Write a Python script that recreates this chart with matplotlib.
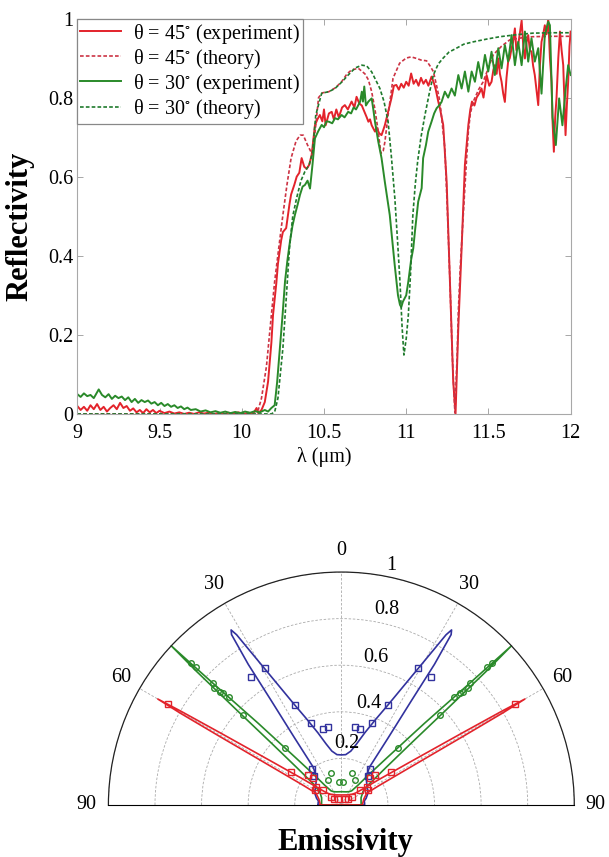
import numpy as np
import matplotlib
matplotlib.use('Agg')
import matplotlib.pyplot as plt

plt.rcParams['font.family'] = ['Liberation Serif', 'DejaVu Serif']
plt.rcParams['mathtext.fontset'] = 'stix'

# ---------------- reflectivity data ----------------
# theta = 45 deg, experiment
exp45 = [
    (9.00, .020), (9.02, .010), (9.04, .018), (9.06, .008), (9.08, .022), (9.10, .012),
    (9.12, .025), (9.14, .010), (9.16, .018), (9.18, .006), (9.20, .015), (9.22, .022),
    (9.24, .012), (9.26, .028), (9.28, .015), (9.30, .020), (9.32, .008), (9.34, .014),
    (9.36, .004), (9.38, .010), (9.40, .002), (9.42, .012), (9.44, .004), (9.46, .010),
    (9.48, .002), (9.50, .008), (9.53, .002), (9.56, .006), (9.59, .001), (9.62, .004),
    (9.65, .000), (9.68, .003), (9.71, .000), (9.74, .004), (9.77, .001), (9.80, .003),
    (9.83, .000), (9.86, .002), (9.89, .000), (9.92, .003), (9.95, .001), (9.98, .004),
    (10.01, .000), (10.04, .003), (10.07, .001), (10.09, .015), (10.10, .002), (10.12, .010),
    (10.14, .030), (10.16, .082), (10.18, .18), (10.19, .25), (10.21, .33), (10.22, .38),
    (10.24, .44), (10.25, .46), (10.27, .47), (10.29, .53), (10.30, .555), (10.32, .58),
    (10.334, .60), (10.35, .61), (10.364, .647), (10.38, .625), (10.395, .62), (10.41, .63),
    (10.425, .655), (10.445, .73), (10.46, .745), (10.475, .756), (10.49, .74), (10.50, .77),
    (10.51, .73), (10.53, .76), (10.547, .764), (10.56, .745), (10.575, .77), (10.59, .75),
    (10.61, .775), (10.627, .781), (10.645, .77), (10.668, .79), (10.685, .775), (10.698, .802),
    (10.715, .785), (10.73, .78), (10.75, .76), (10.76, .75), (10.77, .739), (10.78, .745),
    (10.79, .73), (10.81, .714), (10.82, .725), (10.835, .71), (10.85, .705), (10.87, .73),
    (10.89, .764), (10.91, .798), (10.925, .83), (10.94, .832), (10.955, .82), (10.97, .835),
    (10.985, .825), (11.0, .84), (11.015, .83), (11.03, .861), (11.045, .835), (11.06, .845),
    (11.075, .83), (11.09, .85), (11.105, .835), (11.12, .845), (11.135, .83), (11.154, .853),
    (11.17, .835), (11.18, .82), (11.195, .79), (11.205, .773), (11.225, .731), (11.246, .587),
    (11.266, .335), (11.286, .082), (11.30, .0), (11.317, .22), (11.337, .419), (11.357, .63),
    (11.378, .731), (11.39, .77), (11.40, .79), (11.415, .78), (11.428, .80), (11.443, .81),
    (11.458, .823), (11.47, .80), (11.489, .857), (11.505, .83), (11.519, .84), (11.53, .87),
    (11.539, .882), (11.55, .86), (11.56, .899), (11.57, .86), (11.58, .84), (11.59, .81),
    (11.60, .789), (11.61, .85), (11.62, .891), (11.63, .90), (11.641, .925), (11.65, .94),
    (11.661, .975), (11.67, .92), (11.681, .933), (11.69, .96), (11.702, .995), (11.712, .93),
    (11.722, .899), (11.732, .94), (11.742, .958), (11.752, .92), (11.762, .916), (11.772, .88),
    (11.782, .857), (11.792, .82), (11.803, .781), (11.813, .88), (11.823, .941), (11.833, .96),
    (11.843, .983), (11.853, .96), (11.864, 1.0), (11.874, .9), (11.884, .84), (11.89, .74),
    (11.898, .663), (11.906, .75), (11.914, .798), (11.925, .9), (11.935, .967), (11.945, .92),
    (11.955, .882), (11.962, .79), (11.969, .705), (11.977, .78), (11.985, .84), (11.993, .93),
    (12.0, .967),
]

# theta = 45 deg, theory
th45 = [
    (9.0, 0), (10.05, 0), (10.1, .01), (10.12, .04), (10.15, .12), (10.18, .25), (10.20, .335),
    (10.225, .42), (10.25, .503), (10.275, .58), (10.30, .647), (10.33, .69), (10.355, .705),
    (10.374, .705), (10.40, .68), (10.43, .655), (10.45, .73), (10.467, .80), (10.49, .812),
    (10.53, .815), (10.57, .825), (10.607, .84), (10.64, .86), (10.668, .87), (10.709, .874),
    (10.749, .86), (10.77, .845), (10.79, .815), (10.81, .77), (10.83, .714), (10.846, .659),
    (10.86, .665), (10.87, .687), (10.89, .756), (10.92, .849), (10.96, .887), (11.0, .9),
    (11.03, .903), (11.063, .899), (11.09, .895), (11.124, .893), (11.145, .88), (11.165, .866),
    (11.185, .83), (11.205, .79), (11.235, .672), (11.25, .52), (11.266, .335), (11.28, .15),
    (11.296, .003), (11.31, .15), (11.317, .26), (11.33, .38), (11.347, .503), (11.365, .63),
    (11.378, .714), (11.39, .76), (11.408, .79), (11.44, .82), (11.468, .84), (11.50, .875),
    (11.529, .908), (11.58, .93), (11.63, .946), (11.70, .951), (11.77, .954), (11.88, .955),
    (12.0, .955),
]

# theta = 30 deg, experiment
exp30 = [
    (9.00, .050), (9.02, .043), (9.04, .052), (9.06, .045), (9.08, .048), (9.10, .040),
    (9.12, .055), (9.13, .062), (9.15, .048), (9.17, .042), (9.19, .050), (9.21, .038),
    (9.23, .046), (9.25, .040), (9.27, .044), (9.29, .035), (9.31, .042), (9.33, .030),
    (9.35, .038), (9.37, .028), (9.39, .035), (9.41, .030), (9.43, .034), (9.45, .026),
    (9.47, .030), (9.49, .022), (9.51, .028), (9.53, .020), (9.55, .025), (9.57, .018),
    (9.59, .022), (9.61, .015), (9.63, .019), (9.65, .012), (9.67, .016), (9.69, .010),
    (9.72, .012), (9.75, .006), (9.78, .009), (9.81, .004), (9.84, .007), (9.87, .003),
    (9.90, .006), (9.93, .002), (9.96, .005), (9.99, .002), (10.02, .006), (10.05, .003),
    (10.08, .007), (10.11, .004), (10.14, .010), (10.16, .006), (10.18, .015), (10.20, .022),
    (10.215, .08), (10.232, .166), (10.248, .25), (10.263, .335), (10.278, .39), (10.293, .436),
    (10.308, .475), (10.323, .503), (10.34, .53), (10.354, .554), (10.37, .575), (10.384, .579),
    (10.40, .59), (10.415, .57), (10.43, .63), (10.445, .697), (10.465, .715), (10.486, .731),
    (10.50, .725), (10.515, .74), (10.53, .739), (10.55, .735), (10.567, .748), (10.585, .745),
    (10.607, .756), (10.625, .75), (10.647, .764), (10.665, .76), (10.68, .775), (10.695, .77),
    (10.709, .781), (10.72, .79), (10.73, .815), (10.737, .79), (10.745, .828), (10.755, .78),
    (10.77, .79), (10.79, .798), (10.80, .77), (10.81, .739), (10.83, .689), (10.85, .647),
    (10.87, .587), (10.90, .503), (10.93, .377), (10.95, .30), (10.962, .276), (10.97, .27),
    (10.98, .284), (11.0, .30), (11.013, .335), (11.03, .39), (11.043, .419), (11.053, .461),
    (11.073, .537), (11.094, .571), (11.103, .647), (11.12, .68), (11.134, .714), (11.154, .739),
    (11.17, .76), (11.185, .773), (11.2, .78), (11.215, .789), (11.235, .815), (11.255, .80),
    (11.276, .823), (11.296, .805), (11.317, .857), (11.337, .823), (11.357, .866), (11.378, .815),
    (11.398, .866), (11.418, .84), (11.438, .89), (11.458, .849), (11.479, .908), (11.499, .866),
    (11.519, .916), (11.539, .857), (11.56, .925), (11.58, .874), (11.60, .933), (11.62, .891),
    (11.641, .958), (11.661, .882), (11.681, .941), (11.702, .882), (11.722, .967), (11.742, .891),
    (11.762, .95), (11.782, .891), (11.803, .925), (11.823, .81), (11.843, .958), (11.864, .992),
    (11.874, .983), (11.89, .75), (11.91, .68), (11.93, .798), (11.95, .73), (11.97, .823),
    (11.985, .882), (12.0, .857),
]

# theta = 30 deg, theory
th30 = [
    (9.0, 0), (10.18, 0), (10.2, .005), (10.22, .04), (10.25, .166), (10.27, .29), (10.29, .419),
    (10.31, .50), (10.333, .545), (10.36, .59), (10.384, .613), (10.41, .63), (10.43, .66),
    (10.45, .756), (10.486, .811), (10.53, .815), (10.567, .823), (10.61, .84), (10.647, .857),
    (10.69, .875), (10.73, .882), (10.76, .88), (10.79, .865), (10.82, .84), (10.84, .823),
    (10.865, .79), (10.89, .739), (10.91, .65), (10.931, .545), (10.947, .44), (10.962, .335),
    (10.975, .22), (10.986, .149), (11.0, .19), (11.013, .25), (11.027, .36), (11.04, .50),
    (11.055, .58), (11.07, .64), (11.09, .70), (11.114, .756), (11.14, .81), (11.165, .857),
    (11.195, .885), (11.225, .9), (11.26, .915), (11.306, .925), (11.35, .935), (11.408, .941),
    (11.49, .948), (11.57, .954), (11.67, .959), (11.77, .963), (11.9, .964), (12.0, .964),
]

legend_labels = [r'θ = 45$^{\circ}$ (experiment)', r'θ = 45$^{\circ}$ (theory)',
                 r'θ = 30$^{\circ}$ (experiment)', r'θ = 30$^{\circ}$ (theory)']
xticks = [9, 9.5, 10, 10.5, 11, 11.5, 12]
xticklabels = ['9', '9.5', '10', '10.5', '11', '11.5', '12']
yticks = [0, 0.2, 0.4, 0.6, 0.8, 1]
yticklabels = ['0', '0.2', '0.4', '0.6', '0.8', '1']

# ---------------- emissivity data (polar, one half, mirrored) ----------------
blue_th_ang = [0, 5, 10, 14, 18, 22, 25, 28.6, 30.8, 31.6, 32.2, 32.8, 33.5, 33.9, 34.9, 36.6,
               40, 45, 55, 66, 75, 80, 85, 90]
blue_th_r = [.215, .217, .235, .27, .326, .399, .474, .626, .78, .858, .888, .87, .724, .537,
             .35, .204, .17, .152, .135, .125, .11, .1, .1, .1]
green_th_ang = [0, 20, 30, 36, 40, 42, 44, 45.5, 46.5, 46.9, 47.3, 47.8, 48.5, 50, 53, 58, 70, 90]
green_th_r = [.057, .06, .066, .075, .11, .17, .28, .5, .75, 1.0, .85, .6, .4, .25, .15, .11, .09, .085]
red_th_ang = [0, 20, 35, 45, 50, 53, 56, 58, 59.2, 59.7, 60, 60.3, 60.6, 60.9, 61.5, 62.8, 65, 75, 90]
red_th_r = [.043, .046, .053, .065, .08, .11, .2, .35, .6, .8, .91, .8, .6, .45, .3, .18, .12, .1, .09]

blue_ex_ang = [9.9, 13.7, 20.2, 25, 29.3, 35.1, 38.5, 43]
blue_ex_r = [.338, .334, .376, .474, .673, .672, .2, .17]
green_ex_ang = [4.6, 18, 28.5, 45.1, 47.6, 46.1, 46.7, 47.1, 47.4, 46.6, 46.4, 46.7]
green_ex_r = [.1, .143, .122, .344, .573, .67, .699, .714, .74, .76, .861, .886]
red_ex_ang = [30, 50, 50.6, 51, 53.8, 47, 48, 60, 56.4, 59.8]
red_ex_r = [.03, .04, .057, .102, .134, .167, .193, .13, .258, .862]

rgrid_vals = [0.2, 0.4, 0.6, 0.8, 1.0]
rgrid_labels = ['0.2', '0.4', '0.6', '0.8', '1']
ang_ticks = [-90, -60, -30, 0, 30, 60, 90]
ang_labels = ['90', '60', '30', '0', '30', '60', '90']

RED = '#e3232b'
RED_D = '#cc3344'
GREEN = '#2a8a2a'
GREEN_D = '#1f7a2c'
BLUE = '#32329e'

fig = plt.figure(figsize=(6.09, 8.57), dpi=100)

# ---------------- top: reflectivity ----------------
ax = fig.add_axes([0.127, 0.517, 0.810, 0.4614])
e45 = np.array(exp45)
t45 = np.array(th45)
e30 = np.array(exp30)
t30 = np.array(th30)
ax.plot(e45[:, 0], e45[:, 1], color=RED, lw=1.4, label=legend_labels[0])
ax.plot(t45[:, 0], t45[:, 1], color=RED_D, lw=1.2, ls=(0, (2.2, 1.3)), label=legend_labels[1])
ax.plot(e30[:, 0], e30[:, 1], color=GREEN, lw=1.4, label=legend_labels[2])
ax.plot(t30[:, 0], t30[:, 1], color=GREEN_D, lw=1.2, ls=(0, (2.2, 1.3)), label=legend_labels[3])

ax.set_xlim(9, 12)
ax.set_ylim(0, 1)
ax.set_xticks(xticks)
ax.set_xticklabels(xticklabels)
ax.set_yticks(yticks)
ax.set_yticklabels(yticklabels)
ax.tick_params(direction='in', length=4, width=0.6, color='#999999', top=True, right=True,
               labelsize=14.5)
ax.tick_params(axis='x', pad=7)
ax.tick_params(axis='y', pad=3)
for s in ax.spines.values():
    s.set_color('#a8a8a8')
    s.set_linewidth(0.8)
ax.set_xlabel('λ (μm)', fontsize=14.5, labelpad=3)
leg = ax.legend(loc='upper left', bbox_to_anchor=(0, 1), borderaxespad=0, fontsize=14.5,
                frameon=True, fancybox=False, edgecolor='#888888', framealpha=1,
                handlelength=2.0, handletextpad=0.6, labelspacing=0.05, borderpad=0.15)
leg.get_frame().set_linewidth(0.9)
fig.text(0.033, 0.736, 'Reflectivity', rotation=90, fontsize=22, fontweight='bold',
         ha='center', va='center')

# ---------------- bottom: emissivity polar ----------------
# square box; the half disc sits in its middle
pax = fig.add_axes([0.178, -0.0753, 0.765, 0.5438], projection='polar')
pax.set_theta_zero_location('N')
pax.set_theta_direction(-1)
pax.set_thetamin(-90)
pax.set_thetamax(90)
pax.set_ylim(0, 1)


def mirror(ang, r):
    a = np.array(ang, dtype=float)
    rr = np.array(r, dtype=float)
    full_a = np.concatenate([-a[::-1], a])
    full_r = np.concatenate([rr[::-1], rr])
    return np.deg2rad(full_a), full_r


for ang, r, c in [(blue_th_ang, blue_th_r, BLUE), (green_th_ang, green_th_r, GREEN),
                  (red_th_ang, red_th_r, RED)]:
    a, rr = mirror(ang, r)
    a = np.append(a, a[0])
    rr = np.append(rr, rr[0])
    pax.plot(a, rr, color=c, lw=1.2, clip_on=False)

for ang, r, c, m in [(blue_ex_ang, blue_ex_r, BLUE, 's'), (green_ex_ang, green_ex_r, GREEN, 'o'),
                     (red_ex_ang, red_ex_r, RED, 's')]:
    a = np.deg2rad(np.concatenate([-np.array(ang), np.array(ang)]))
    rr = np.concatenate([r, r])
    pax.plot(a, rr, ls='none', marker=m, ms=4, mfc='none', mec=c, mew=1.0, clip_on=False)

pax.set_thetagrids(ang_ticks, labels=ang_labels, fontsize=14.5)
pax.set_rgrids(rgrid_vals, labels=['' for _ in rgrid_vals])
pax.grid(True, linestyle=(0, (3, 2)), color='#aaaaaa', lw=0.6)
pax.spines['polar'].set_color('#222222')
pax.spines['polar'].set_linewidth(0.9)
pax.spines['start'].set_visible(False)
pax.spines['end'].set_visible(False)
pax.tick_params(axis='x', pad=5)

rlab_ang = [5, 15, 13.3, 13, 11.8]
rlab_r = [0.265, 0.45, 0.65, 0.86, 1.05]
for a, r, t in zip(rlab_ang, rlab_r, rgrid_labels):
    pax.text(np.deg2rad(a), r, t, fontsize=14.5, ha='center', va='center')

fig.text(0.567, 0.017, 'Emissivity', fontsize=22, fontweight='bold', ha='center', va='center')

fig.savefig('out.png', dpi=100)
